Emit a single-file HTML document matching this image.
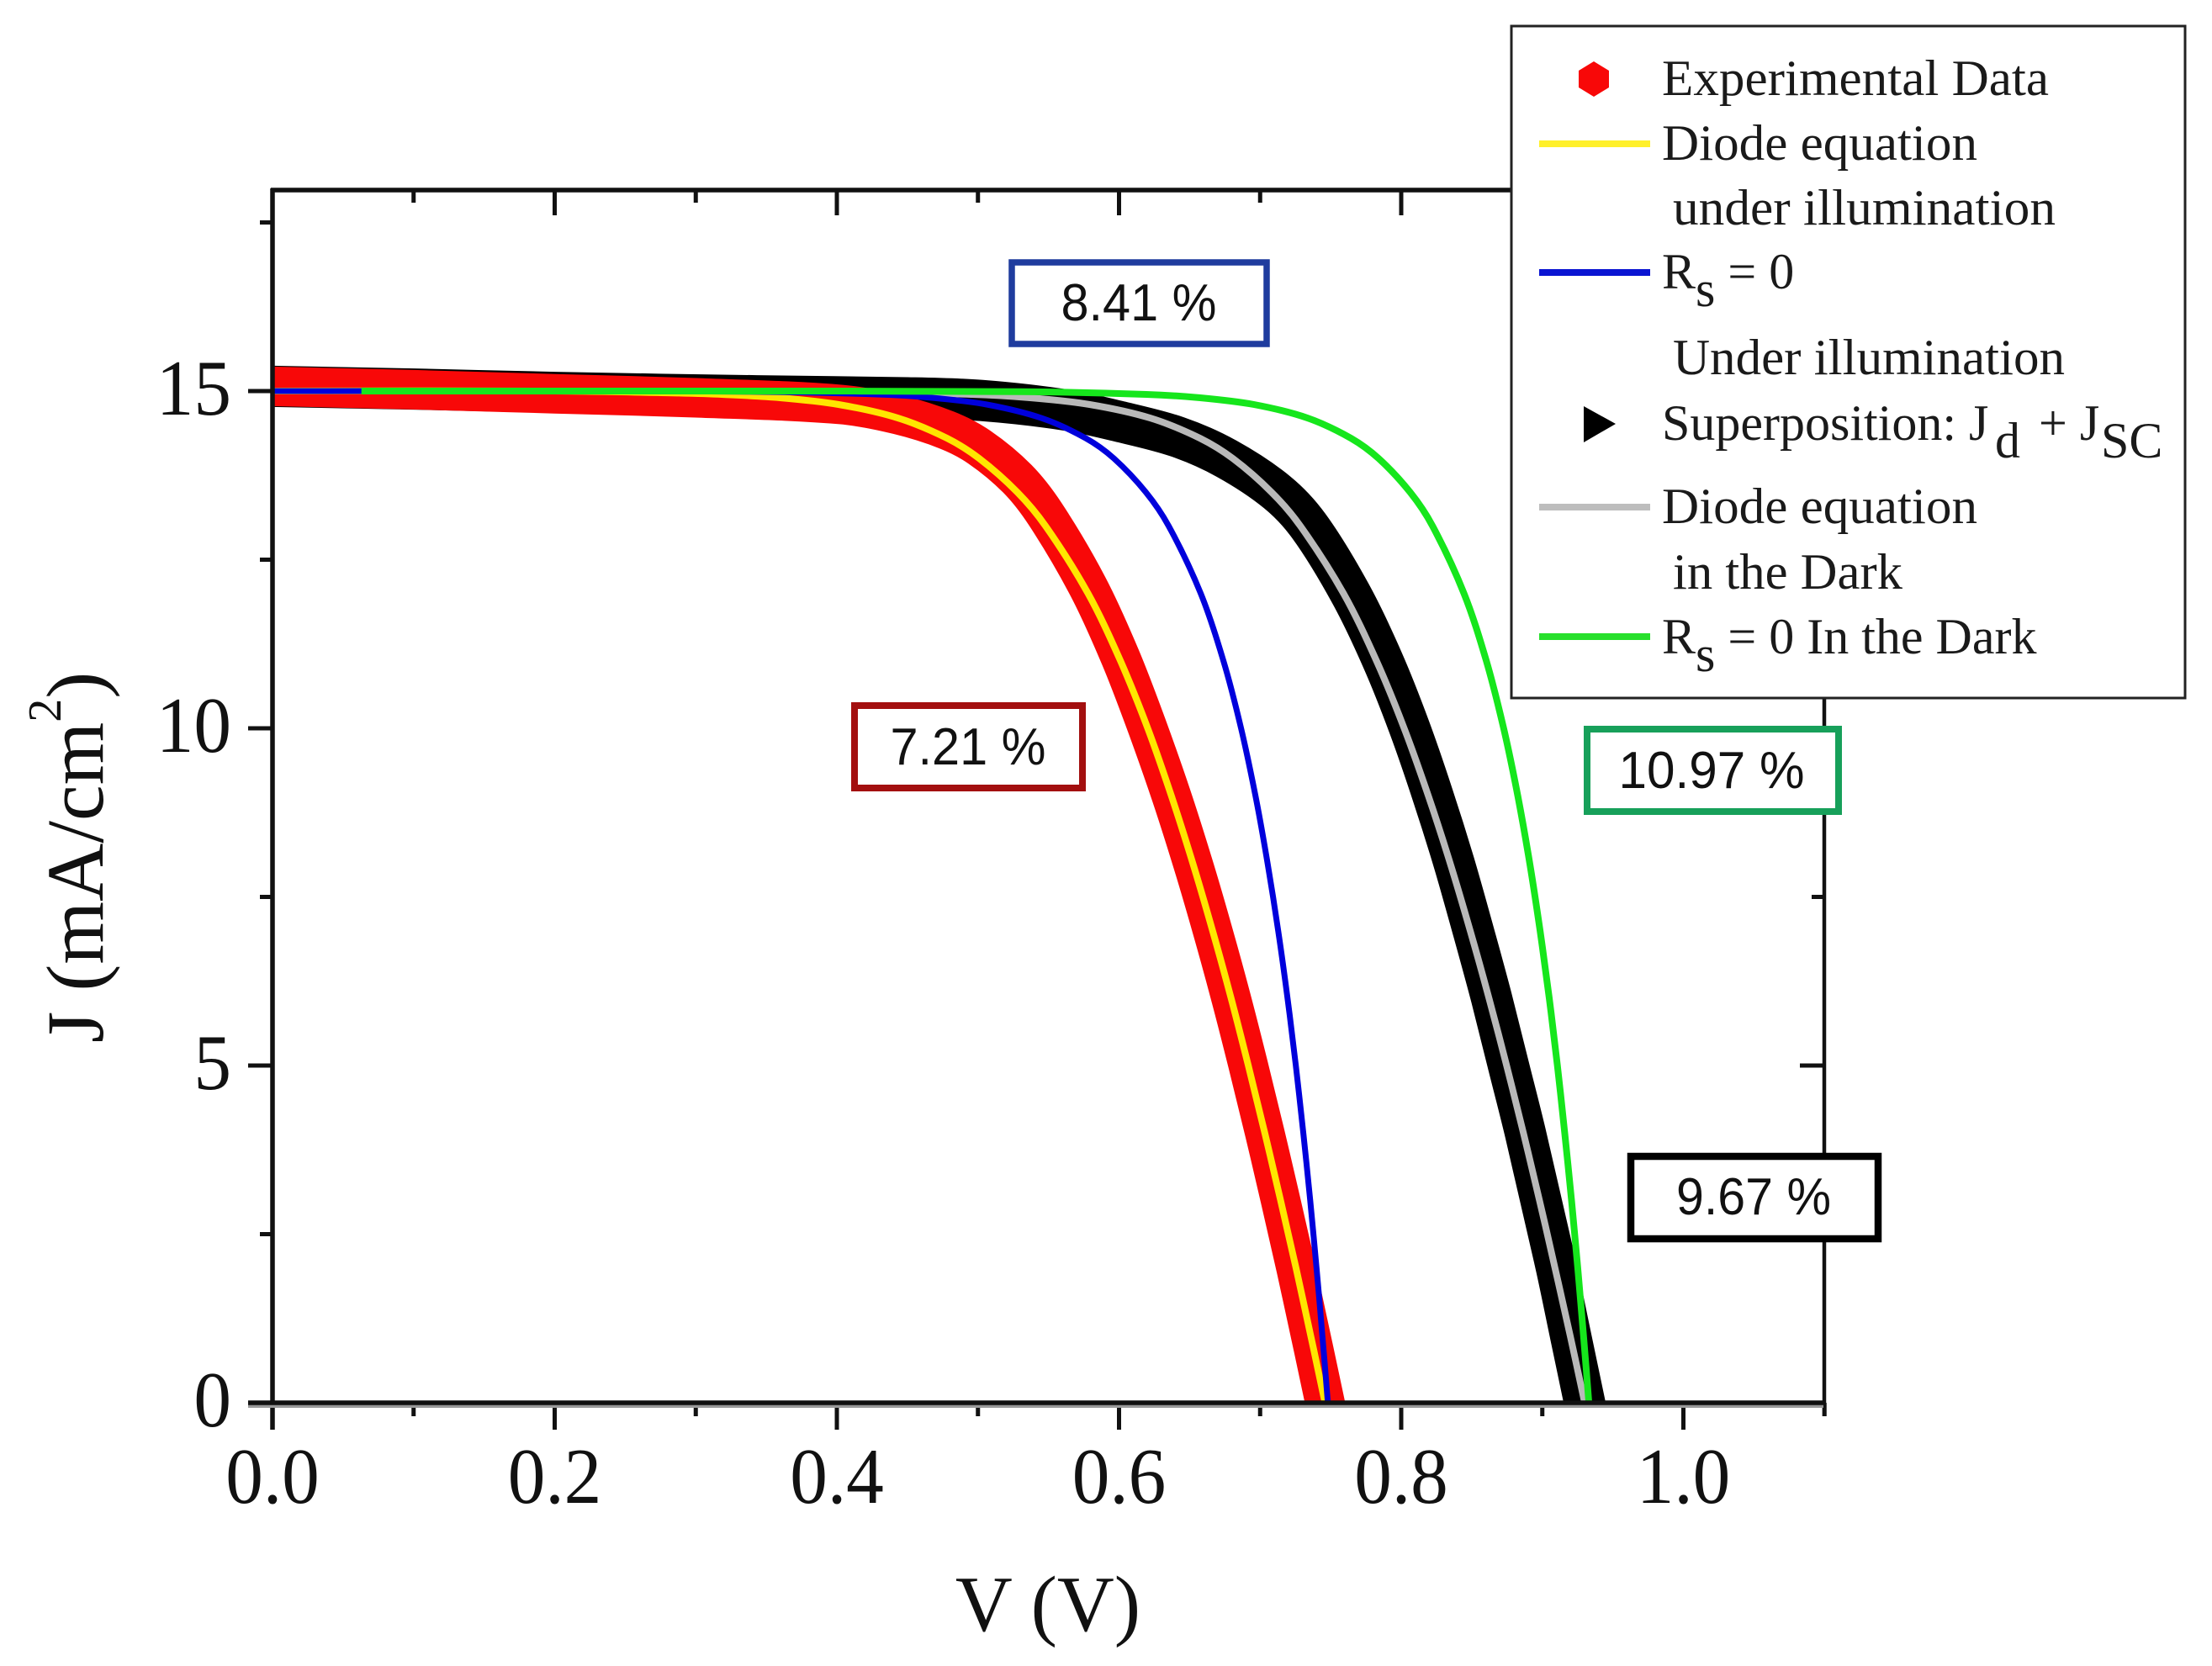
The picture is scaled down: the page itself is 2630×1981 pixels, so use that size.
<!DOCTYPE html>
<html lang="en">
<head>
<meta charset="utf-8">
<title>J-V curves</title>
<style>
html,body{margin:0;padding:0;background:#fff;}
svg{display:block;}
text{font-family:"Liberation Serif",serif;fill:#111;}
.pct{font-family:"Liberation Sans",sans-serif;font-size:62px;}
.leg{font-size:60px;fill:#1a1a1a;}
.curve{fill:none;stroke-linejoin:round;stroke-linecap:butt;}
</style>
</head>
<body>
<svg id="chart" xmlns="http://www.w3.org/2000/svg" width="2630" height="1981" viewBox="0 0 2630 1981">
  <rect x="0" y="0" width="2630" height="1981" fill="#fff"/>
  <defs>
    <clipPath id="plot-clip"><rect x="324" y="226" width="1844" height="1442"/></clipPath>
  </defs>

  <g id="ticks"></g>

  <g clip-path="url(#plot-clip)">
    <path id="c-black" class="curve" stroke="#000" stroke-width="49"/>
    <path id="c-gray" class="curve" stroke="#b9b9b9" stroke-width="8"/>
    <path id="c-red" class="curve" stroke="#f80808" stroke-width="47"/>
    <path id="c-yellow" class="curve" stroke="#ffe600" stroke-width="8"/>
    <path id="c-blue" class="curve" stroke="#0000dc" stroke-width="7"/>
    <path id="c-green" class="curve" stroke="#16e61c" stroke-width="8"/>
  </g>

  <g id="frame" stroke="#111" fill="none">
    <line x1="324" y1="224" x2="324" y2="1700" stroke-width="5.5"/>
    <line x1="322" y1="226" x2="2170" y2="226" stroke-width="5.5"/>
    <line x1="2169" y1="224" x2="2169" y2="1684" stroke-width="4.5"/>
    <line x1="295" y1="1671" x2="2168" y2="1671" stroke="#999" stroke-width="6"/>
    <line x1="295" y1="1668" x2="2170" y2="1668" stroke-width="5.5"/>
  </g>

  <text x="1246" y="1939" text-anchor="middle" font-size="94">V (V)</text>
  <text transform="translate(122,1240) rotate(-90)" font-size="96">J (mA/cm<tspan font-size="56" dy="-50">2</tspan><tspan dy="50">)</tspan></text>

  <g>
    <rect x="1203" y="312" width="303" height="97" fill="#fff" stroke="#1f3c9e" stroke-width="7.5"/>
    <text class="pct" x="1354" y="381" text-anchor="middle" textLength="185" lengthAdjust="spacingAndGlyphs">8.41 %</text>
  </g>
  <g>
    <rect x="1016" y="839" width="271" height="98" fill="#fff" stroke="#a30f0f" stroke-width="8"/>
    <text class="pct" x="1151" y="909" text-anchor="middle" textLength="185" lengthAdjust="spacingAndGlyphs">7.21 %</text>
  </g>
  <g>
    <rect x="1887" y="867" width="299" height="98" fill="#fff" stroke="#17a05a" stroke-width="8"/>
    <text class="pct" x="2035" y="937" text-anchor="middle" textLength="221" lengthAdjust="spacingAndGlyphs">10.97 %</text>
  </g>
  <g>
    <rect x="1939" y="1375" width="294" height="98" fill="#fff" stroke="#000" stroke-width="8.5"/>
    <text class="pct" x="2085" y="1444" text-anchor="middle" textLength="184" lengthAdjust="spacingAndGlyphs">9.67 %</text>
  </g>

  <g>
    <rect x="1797" y="31" width="801" height="799" fill="#fff" stroke="#222" stroke-width="3"/>

    <polygon points="1895,73 1913,84 1913,104 1895,115 1877,104 1877,84" fill="#f80808"/>
    <text class="leg" x="1976" y="113" textLength="460" lengthAdjust="spacingAndGlyphs">Experimental Data</text>

    <line x1="1830" y1="171" x2="1962" y2="171" stroke="#fff02a" stroke-width="8"/>
    <text class="leg" x="1976" y="190" textLength="375" lengthAdjust="spacingAndGlyphs">Diode equation</text>
    <text class="leg" x="1989" y="267" textLength="455" lengthAdjust="spacingAndGlyphs">under illumination</text>

    <line x1="1830" y1="324" x2="1962" y2="324" stroke="#0a14d2" stroke-width="8"/>
    <text class="leg" x="1976" y="343">R<tspan dy="21">s</tspan><tspan dy="-21"> = 0</tspan></text>

    <text class="leg" x="1989" y="445" textLength="466" lengthAdjust="spacingAndGlyphs">Under illumination</text>
    <polygon points="1883,483 1921,504 1883,526" fill="#000"/>
    <text class="leg" x="1976" y="523">Superposition: J<tspan x="2372" dy="21">d</tspan><tspan x="2424" dy="-21">+ J</tspan><tspan x="2498" dy="21">SC</tspan></text>

    <line x1="1830" y1="603" x2="1962" y2="603" stroke="#bdbdbd" stroke-width="8"/>
    <text class="leg" x="1976" y="622" textLength="375" lengthAdjust="spacingAndGlyphs">Diode equation</text>
    <text class="leg" x="1989" y="700" textLength="273" lengthAdjust="spacingAndGlyphs">in the Dark</text>

    <line x1="1830" y1="757" x2="1962" y2="757" stroke="#28e02c" stroke-width="8"/>
    <text class="leg" x="1976" y="777">R<tspan dy="21">s</tspan><tspan dy="-21"> = 0 In the Dark</tspan></text>
  </g>

  <script>
  // Tick values
  const xMajorTicks = [0.0, 0.2, 0.4, 0.6, 0.8, 1.0];
  const xMinorTicks = [0.1, 0.3, 0.5, 0.7, 0.9, 1.1];
  const yMajorTicks = [0, 5, 10, 15];
  const yMinorTicks = [2.5, 7.5, 12.5, 17.5];
  const xTickLabels = ["0.0", "0.2", "0.4", "0.6", "0.8", "1.0"];
  const yTickLabels = ["0", "5", "10", "15"];

  // Series (smoothed by hand): voltage (V) and current density (mA/cm2)
  const redV = [0, 0.1, 0.2, 0.3, 0.403, 0.4433, 0.4781, 0.5009, 0.5279, 0.5479, 0.578, 0.601, 0.6203, 0.6371, 0.6523, 0.6663, 0.6794, 0.6916, 0.7033, 0.7145, 0.7254, 0.7358, 0.746, 0.7559];
  const redJ = [15.07, 15.02, 14.96, 14.9, 14.8, 14.65, 14.42, 14.17, 13.7, 13.17, 12.1, 11.05, 10, 9, 8, 7, 6, 5, 4, 3, 2, 1, 0, -1];

  const yellowV = [0, 0.2, 0.288, 0.3185, 0.3597, 0.4012, 0.4433, 0.4781, 0.5009, 0.5279, 0.5479, 0.578, 0.601, 0.6203, 0.6371, 0.6523, 0.6663, 0.6794, 0.6916, 0.7033, 0.7145, 0.7254, 0.7358, 0.746, 0.7559];
  const yellowJ = [15, 15, 14.97, 14.95, 14.9, 14.8, 14.6, 14.3, 14, 13.5, 13, 12, 11, 10, 9, 8, 7, 6, 5, 4, 3, 2, 1, 0, -1];

  const blueV = [0, 0.2, 0.3385, 0.4286, 0.4674, 0.5062, 0.545, 0.5764, 0.5964, 0.619, 0.6352, 0.6579, 0.674, 0.6865, 0.6967, 0.7053, 0.7128, 0.7194, 0.7253, 0.7306, 0.7355, 0.74, 0.7441, 0.748, 0.7516];
  const blueJ = [15, 15, 14.99, 14.95, 14.9, 14.8, 14.6, 14.3, 14, 13.5, 13, 12, 11, 10, 9, 8, 7, 6, 5, 4, 3, 2, 1, 0, -1];

  const greenV = [0.063, 0.3, 0.5308, 0.6193, 0.6575, 0.6956, 0.7337, 0.7644, 0.784, 0.8063, 0.8222, 0.8445, 0.8603, 0.8726, 0.8826, 0.8911, 0.8984, 0.9049, 0.9107, 0.9159, 0.9207, 0.9251, 0.9292, 0.933, 0.9365];
  const greenJ = [15, 15, 14.99, 14.95, 14.9, 14.8, 14.6, 14.3, 14, 13.5, 13, 12, 11, 10, 9, 8, 7, 6, 5, 4, 3, 2, 1, 0, -1];

  const grayV = [0, 0.2, 0.3983, 0.4951, 0.537, 0.5792, 0.6221, 0.6574, 0.6807, 0.7081, 0.7285, 0.7591, 0.7825, 0.8021, 0.8192, 0.8347, 0.8489, 0.8622, 0.8747, 0.8866, 0.898, 0.909, 0.9197, 0.93, 0.9401];
  const grayJ = [15, 15, 14.99, 14.95, 14.9, 14.8, 14.6, 14.3, 14, 13.5, 13, 12, 11, 10, 9, 8, 7, 6, 5, 4, 3, 2, 1, 0, -1];

  const blackV = [0, 0.1, 0.2, 0.343, 0.45, 0.5025, 0.562, 0.6, 0.6415, 0.676, 0.712, 0.7345, 0.764, 0.787, 0.806, 0.8225, 0.8375, 0.851, 0.864, 0.876, 0.888, 0.899, 0.91, 0.92, 0.93, 0.94];
  const blackJ = [15.07, 15.03, 14.98, 14.93, 14.9, 14.86, 14.72, 14.55, 14.32, 14, 13.5, 13, 12, 11, 10, 9, 8, 7, 6, 5, 4, 3, 2, 1, 0, -1];

  function xScale(v) { return 324 + 1677.5 * v; }
  function yScale(j) { return 1668 - 80.2 * j; }

  function smoothPath(vs, js) {
    const p = vs.map(function (v, i) { return [xScale(v), yScale(js[i])]; });
    let d = 'M' + p[0][0].toFixed(1) + ' ' + p[0][1].toFixed(1);
    for (let i = 0; i < p.length - 1; i++) {
      const a = p[Math.max(i - 1, 0)], b = p[i], c = p[i + 1], e = p[Math.min(i + 2, p.length - 1)];
      const len = Math.hypot(c[0] - b[0], c[1] - b[1]);
      const l1 = Math.hypot(c[0] - a[0], c[1] - a[1]) || 1;
      const l2 = Math.hypot(e[0] - b[0], e[1] - b[1]) || 1;
      const c1x = b[0] + (c[0] - a[0]) / l1 * len / 3;
      const c1y = b[1] + (c[1] - a[1]) / l1 * len / 3;
      const c2x = c[0] - (e[0] - b[0]) / l2 * len / 3;
      const c2y = c[1] - (e[1] - b[1]) / l2 * len / 3;
      d += 'C' + c1x.toFixed(1) + ' ' + c1y.toFixed(1) + ' ' + c2x.toFixed(1) + ' ' + c2y.toFixed(1) + ' ' + c[0].toFixed(1) + ' ' + c[1].toFixed(1);
    }
    return d;
  }

  document.getElementById('c-black').setAttribute('d', smoothPath(blackV, blackJ));
  document.getElementById('c-gray').setAttribute('d', smoothPath(grayV, grayJ));
  document.getElementById('c-red').setAttribute('d', smoothPath(redV, redJ));
  document.getElementById('c-yellow').setAttribute('d', smoothPath(yellowV, yellowJ));
  document.getElementById('c-blue').setAttribute('d', smoothPath(blueV, blueJ));
  document.getElementById('c-green').setAttribute('d', smoothPath(greenV, greenJ));

  const NS = 'http://www.w3.org/2000/svg';
  const tickGroup = document.getElementById('ticks');

  function tickLine(x1, y1, x2, y2, name) {
    const el = document.createElementNS(NS, 'line');
    el.setAttribute('x1', x1);
    el.setAttribute('y1', y1);
    el.setAttribute('x2', x2);
    el.setAttribute('y2', y2);
    el.setAttribute('stroke', '#111');
    el.setAttribute('stroke-width', '5');
    
    
    tickGroup.appendChild(el);
  }

  xMajorTicks.forEach(function (v) {
    const x = xScale(v);
    tickLine(x, 1668, x, 1700, 'x-major-tick');
    tickLine(x, 226, x, 256, 'top-major-tick');
  });
  xMinorTicks.forEach(function (v) {
    const x = xScale(v);
    tickLine(x, 1668, x, 1684, 'x-minor-tick');
    tickLine(x, 226, x, 241, 'top-minor-tick');
  });
  yMajorTicks.forEach(function (j) {
    const y = yScale(j);
    tickLine(295, y, 324, y, 'y-major-tick');
    tickLine(2140, y, 2168, y, 'right-major-tick');
  });
  yMinorTicks.forEach(function (j) {
    const y = yScale(j);
    tickLine(309, y, 324, y, 'y-minor-tick');
    tickLine(2154, y, 2168, y, 'right-minor-tick');
  });

  xMajorTicks.forEach(function (v, i) {
    const el = document.createElementNS(NS, 'text');
    el.setAttribute('transform', 'translate(' + xScale(v) + ',1787) scale(0.95,1)');
    el.setAttribute('text-anchor', 'middle');
    el.setAttribute('font-size', '94');
    
    
    el.textContent = xTickLabels[i];
    tickGroup.appendChild(el);
  });
  yMajorTicks.forEach(function (j, i) {
    const el = document.createElementNS(NS, 'text');
    el.setAttribute('transform', 'translate(275,' + (yScale(j) + 28) + ') scale(0.95,1)');
    el.setAttribute('text-anchor', 'end');
    el.setAttribute('font-size', '94');
    
    
    el.textContent = yTickLabels[i];
    tickGroup.appendChild(el);
  });
  </script>
</svg>
</body>
</html>
